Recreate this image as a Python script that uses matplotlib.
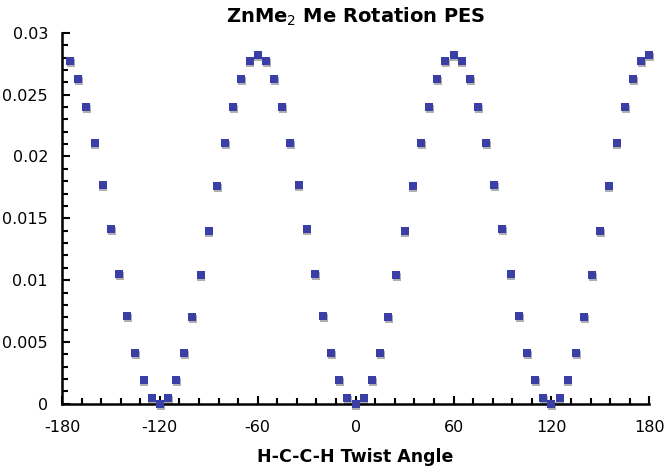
import matplotlib
matplotlib.use("Agg")
import matplotlib.pyplot as plt
import matplotlib.transforms as mtransforms
from matplotlib.ticker import MultipleLocator

# ── Data ─────────────────────────────────────────────────────────────────────
angle = list(range(-175, 181, 5))

energy = [
    0.0277, 0.0263, 0.0240, 0.0211, 0.0177, 0.0141, 0.0105, 0.0071,   # -175..-140
    0.0041, 0.0019, 0.0005, 0.0000, 0.0005, 0.0019, 0.0041, 0.0070,   # -135..-100
    0.0104, 0.0140, 0.0176, 0.0211, 0.0240, 0.0263, 0.0277, 0.0282,   # -95..-60
    0.0277, 0.0263, 0.0240, 0.0211, 0.0177, 0.0141, 0.0105, 0.0071,   # -55..-20
    0.0041, 0.0019, 0.0005, 0.0000, 0.0005, 0.0019, 0.0041, 0.0070,   # -15..20
    0.0104, 0.0140, 0.0176, 0.0211, 0.0240, 0.0263, 0.0277, 0.0282,   # 25..60
    0.0277, 0.0263, 0.0240, 0.0211, 0.0177, 0.0141, 0.0105, 0.0071,   # 65..100
    0.0041, 0.0019, 0.0005, 0.0000, 0.0005, 0.0019, 0.0041, 0.0070,   # 105..140
    0.0104, 0.0140, 0.0176, 0.0211, 0.0240, 0.0263, 0.0277, 0.0282,   # 145..180
]

x_ticks = [-180, -120, -60, 0, 60, 120, 180]
y_ticks = [0, 0.005, 0.01, 0.015, 0.02, 0.025, 0.03]
y_labels = ["0", "0.005", "0.01", "0.015", "0.02", "0.025", "0.03"]

# ── Figure ───────────────────────────────────────────────────────────────────
fig = plt.figure(figsize=(6.66, 4.69), dpi=100)
ax = fig.add_axes([0.093, 0.139, 0.882, 0.791])

# grey drop shadow under each marker
shadow = mtransforms.offset_copy(ax.transData, fig=fig, x=0.5, y=-1.4, units="points")
ax.scatter(angle, energy, marker="s", s=26, color="#b0b0b0", linewidths=0,
           transform=shadow, zorder=2, clip_on=False)
ax.scatter(angle, energy, marker="s", s=26, color="#3a3fa6", linewidths=0,
           zorder=3, clip_on=False)

ax.set_xlim(-180, 180)
ax.set_ylim(0, 0.03)
ax.set_xticks(x_ticks)
ax.set_xticklabels([str(t) for t in x_ticks])
ax.set_yticks(y_ticks)
ax.set_yticklabels(y_labels)
ax.xaxis.set_minor_locator(MultipleLocator(12))
ax.yaxis.set_minor_locator(MultipleLocator(0.001))

for side in ("top", "right"):
    ax.spines[side].set_visible(False)
for side in ("left", "bottom"):
    ax.spines[side].set_linewidth(1.8)

ax.tick_params(which="both", direction="in", width=1.5, labelsize=11.5)
ax.tick_params(axis="x", which="major", pad=12)
ax.tick_params(axis="y", which="major", pad=10)
ax.tick_params(which="major", length=6)
ax.tick_params(which="minor", length=4)

ax.set_title("ZnMe$_2$ Me Rotation PES", fontsize=14, fontweight="bold", pad=7)
ax.set_xlabel("H-C-C-H Twist Angle", fontsize=12.5, fontweight="bold", labelpad=9)

fig.savefig("out.png", dpi=100)
